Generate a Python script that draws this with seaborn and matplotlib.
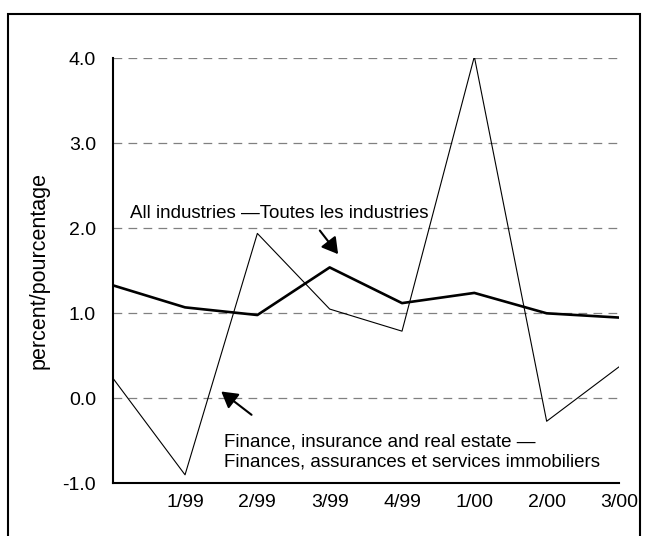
import pandas as pd
import seaborn as sns
import matplotlib.pyplot as plt
from matplotlib.patches import Rectangle

# data
quarters = ['', '1/99', '2/99', '3/99', '4/99', '1/00', '2/00', '3/00']
all_industries = [1.33, 1.07, 0.98, 1.54, 1.12, 1.24, 1.00, 0.95]
finance = [0.24, -0.90, 1.94, 1.05, 0.79, 4.02, -0.27, 0.37]

sns.set_style("white")
plt.rcParams['font.family'] = ['Liberation Sans', 'DejaVu Sans']
plt.rcParams['text.color'] = 'black'
plt.rcParams['axes.labelcolor'] = 'black'
plt.rcParams['xtick.color'] = 'black'
plt.rcParams['ytick.color'] = 'black'

df = pd.DataFrame({'pos': range(len(quarters)),
                   'all': all_industries,
                   'fin': finance})

fig = plt.figure(figsize=(6.47, 5.36), dpi=100)
ax = fig.add_axes([0.1742, 0.0983, 0.7825, 0.7929])

sns.lineplot(data=df, x='pos', y='fin', color='black', lw=0.8, ax=ax)
sns.lineplot(data=df, x='pos', y='all', color='black', lw=1.9, ax=ax)

ax.set_xlim(0, 7)
ax.set_ylim(-1, 4)
ax.set_yticks([-1, 0, 1, 2, 3, 4])
ax.set_yticklabels(['-1.0', '0.0', '1.0', '2.0', '3.0', '4.0'])
ax.set_xticks(range(len(quarters)))
ax.set_xticklabels(quarters)
ax.tick_params(axis='x', direction='in', length=5, width=1.5, pad=8, labelsize=14)
ax.tick_params(axis='y', length=0, pad=12, labelsize=14)

for v in [0, 1, 2, 3, 4]:
    ax.axhline(v, color='#808080', lw=0.9, ls=(0, (7, 5)), zorder=0)

for s in ['top', 'right']:
    ax.spines[s].set_visible(False)
for s in ['left', 'bottom']:
    ax.spines[s].set_linewidth(1.5)
    ax.spines[s].set_color('black')

ax.set_xlabel('')
ax.set_ylabel('percent/pourcentage', fontsize=15.5)
ax.yaxis.set_label_coords(-0.124, 0.5)

ax.text(0.235, 2.18, 'All industries \u2014Toutes les industries', fontsize=13.5, va='center', ha='left')
ax.annotate('', xy=(3.14, 1.67), xytext=(2.84, 2.0),
            arrowprops=dict(arrowstyle='-|>,head_length=0.6,head_width=0.35', color='black',
                            lw=1.5, mutation_scale=16))
ax.text(1.54, -0.635, 'Finance, insurance and real estate \u2014\nFinances, assurances et services immobiliers',
        fontsize=13.5, va='center', ha='left', linespacing=1.2)
ax.annotate('', xy=(1.47, 0.10), xytext=(1.95, -0.214),
            arrowprops=dict(arrowstyle='-|>,head_length=0.6,head_width=0.35', color='black',
                            lw=1.5, mutation_scale=16))

fig.patches.append(Rectangle((0.0124, -0.05), 0.977, 1.024, transform=fig.transFigure,
                             fill=False, edgecolor='black', lw=1.5))

plt.savefig('out.png', dpi=100)
